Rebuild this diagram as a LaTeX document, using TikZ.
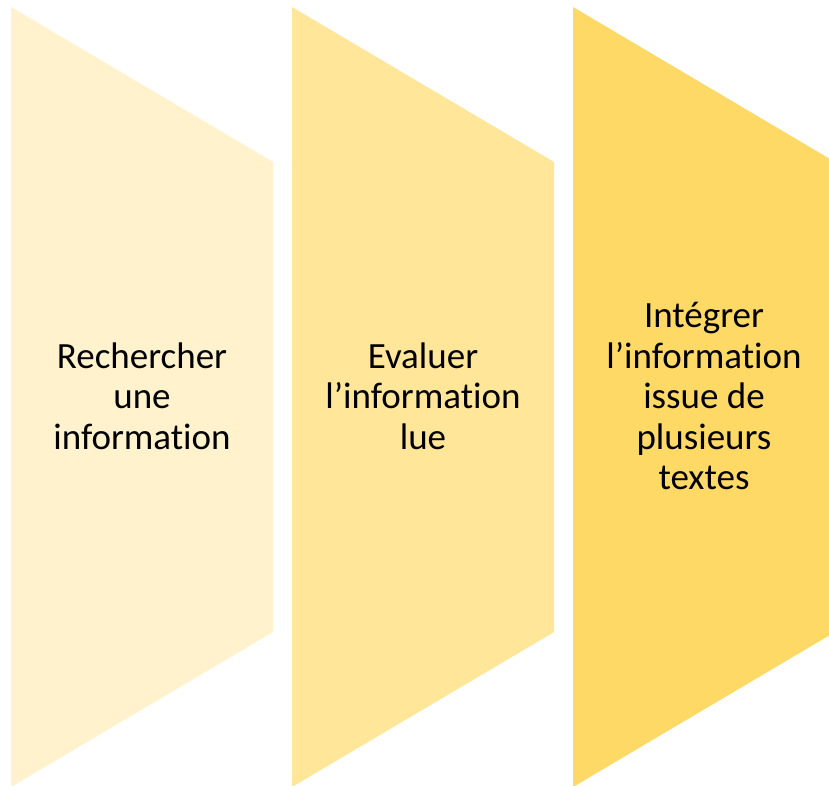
\documentclass[tikz,border=0pt]{standalone}
\usepackage{fontspec}
\setmainfont{Carlito}[RawFeature={-liga}]
\definecolor{goldA}{HTML}{FFF2CC}
\definecolor{goldB}{HTML}{FFE699}
\definecolor{goldC}{HTML}{FFD966}
\tikzset{
  stage/.style={fill=#1, draw=none},
  stagetext/.style={align=center, inner sep=0pt, font=\fontsize{37}{40.5}\selectfont, text=black}
}
\begin{document}
\begin{tikzpicture}[x=1pt,y=-1pt]
\useasboundingbox (0,0) rectangle (829,786);
\begin{scope}
\clip (0,0) rectangle (829,786);
\path[stage=goldA] (11,7) -- (273,162) -- (273,632) -- (11,787) -- cycle;
\path[stage=goldB] (292,7) -- (554,162) -- (554,632) -- (292,787) -- cycle;
\path[stage=goldC] (573,7) -- (835,162) -- (835,632) -- (573,787) -- cycle;
\end{scope}
\node[stagetext] (t1) at (142,396) {Rechercher\\une\\information};
\node[stagetext] (t2) at (423,396) {Evaluer\\l’information\\lue};
\node[stagetext] (t3) at (704,396) {Intégrer\\l’information\\issue de\\plusieurs\\textes};
\end{tikzpicture}
\end{document}
